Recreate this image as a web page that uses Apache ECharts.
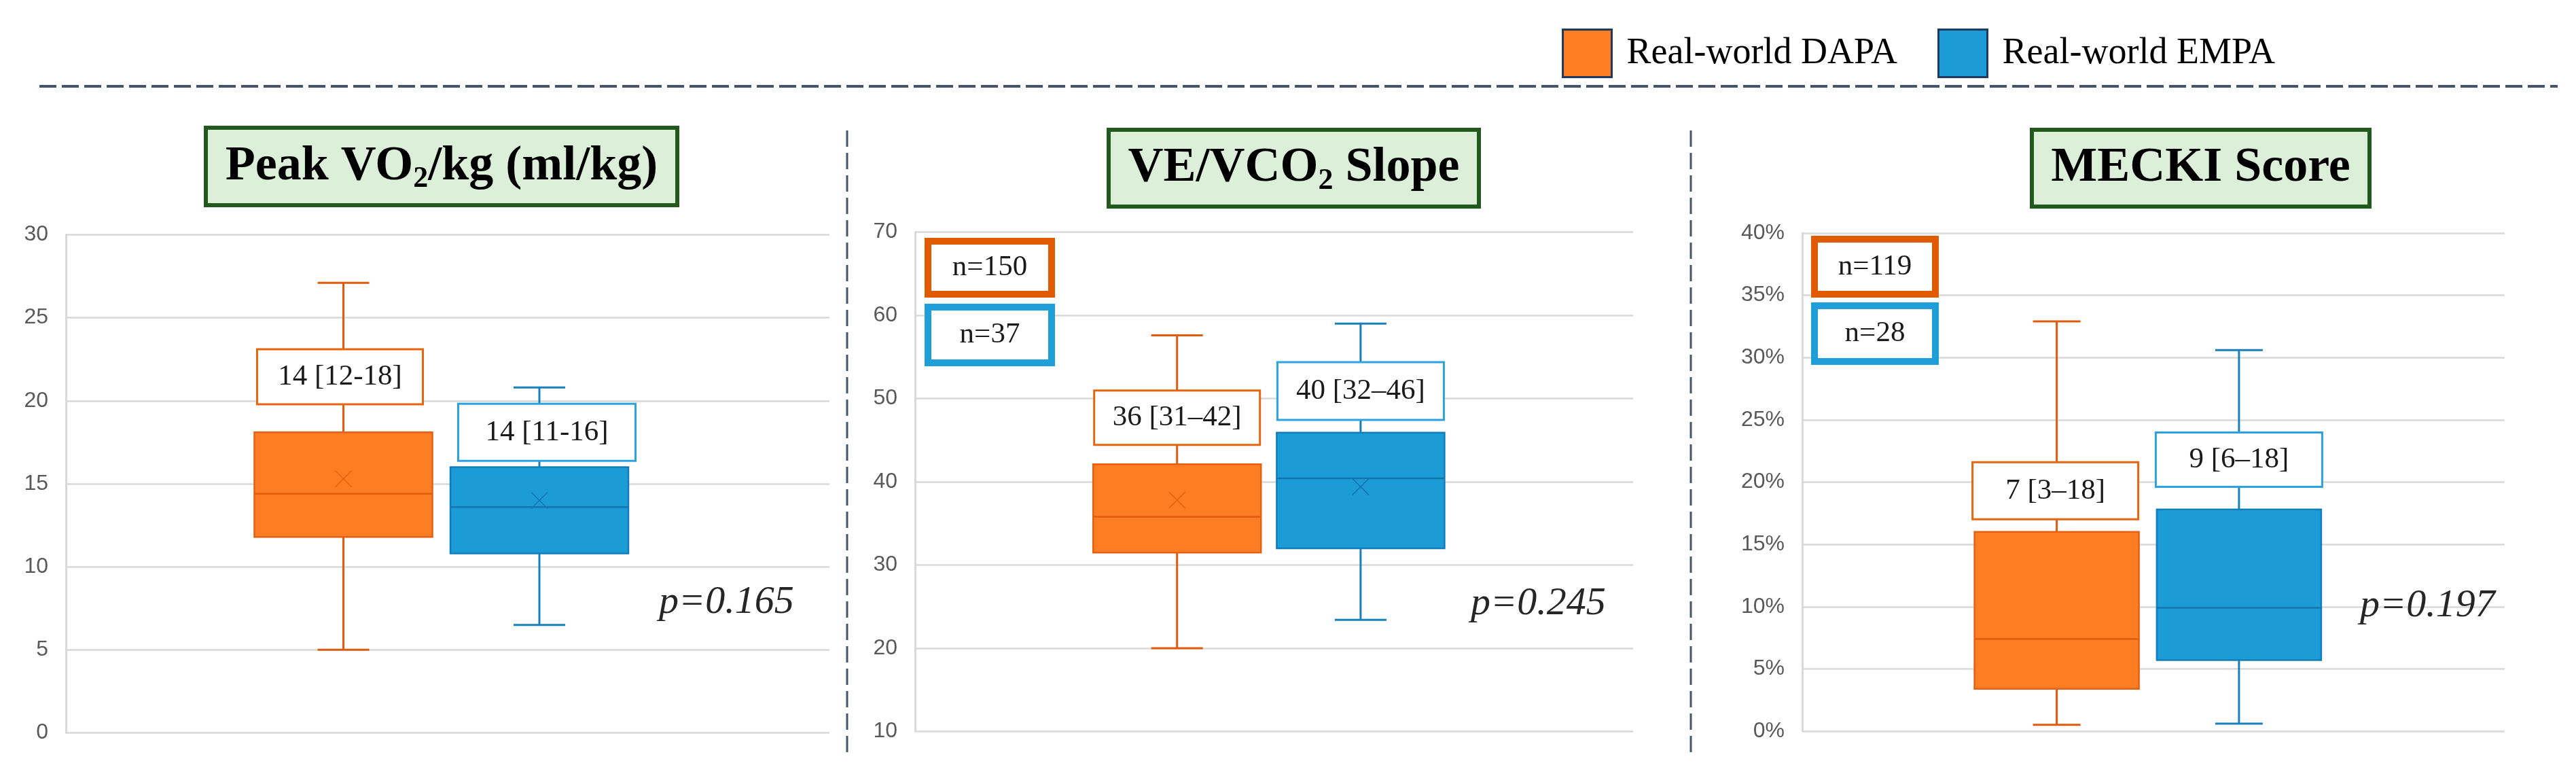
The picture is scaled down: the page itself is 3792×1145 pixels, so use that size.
<!DOCTYPE html>
<html><head><meta charset="utf-8">
<script src="https://cdn.jsdelivr.net/npm/echarts@6/dist/echarts.min.js"></script>
<style>html,body{margin:0;padding:0;background:#fff}#c{width:3792px;height:1145px}</style>
</head><body><div id="c"></div>
<script>
// ---------- data ----------
const seriesNames = ['Real-world DAPA', 'Real-world EMPA'];
// [min, Q1, median, Q3, max, mean]
const peakDapa  = [5.0, 11.8, 14.4, 18.1, 27.1, 15.3];
const peakEmpa  = [6.5, 10.8, 13.6, 16.0, 20.8, 14.0];
const slopeDapa = [20.0, 31.5, 35.8, 42.1, 57.6, 37.8];
const slopeEmpa = [23.4, 32.0, 40.4, 45.9, 59.0, 39.4];
const meckiDapa = [0.5, 3.4, 7.4, 16.0, 32.9, null];
const meckiEmpa = [0.6, 5.7, 9.9, 17.8, 30.6, null];
const peakLabels  = ['14 [12-18]', '14 [11-16]'];
const slopeLabels = ['36 [31–42]', '40 [32–46]'];
const meckiLabels = ['7 [3–18]', '9 [6–18]'];
const slopeCounts = [150, 37];
const meckiCounts = [119, 28];
const pValues = ['0.165', '0.245', '0.197'];

// ---------- styles / layout ----------
const SERIF = '"Liberation Serif", "Times New Roman", serif';
const SANS = '"Liberation Sans", Arial, sans-serif';
const groupStyle = [
  {fill:'#FD7D25', stroke:'#E66010', whisker:'#E25B0C', median:'#E25B0C', mean:'#E5600F', label:'#E8650F', nBox:'#E05A00'},
  {fill:'#1C9CD7', stroke:'#137DB9', whisker:'#1A80BA', median:'#1674AD', mean:'#1674AD', label:'#2AA3E0', nBox:'#1E9FDA'}
];
const panels = [
  {data:[peakDapa, peakEmpa], labels:peakLabels,
   grid:{left:97, top:345.5, width:1124, height:733}, y:{min:0, max:30, interval:5, fmt:'{value}'},
   dx:[-153.5, 135], boxW:262, capW:76, labelY:[21.45, 18.1], labelDx:[-5, 11], labelW:[244, 261], labelH:[81, 84]},
  {data:[slopeDapa, slopeEmpa], labels:slopeLabels,
   grid:{left:1347, top:341.5, width:1057, height:735}, y:{min:10, max:70, interval:10, fmt:'{value}'},
   dx:[-142.8, 127.4], boxW:247, capW:76, labelY:[47.7, 50.9], labelDx:[0, 0], labelW:[244, 245], labelH:[80, 85]},
  {data:[meckiDapa, meckiEmpa], labels:meckiLabels,
   grid:{left:2653, top:343, width:1034, height:733}, y:{min:0, max:40, interval:5, fmt:'{value}%'},
   dx:[-142.4, 125.9], boxW:242, capW:70, labelY:[19.3, 21.8], labelDx:[-2, 0], labelW:[244, 245], labelH:[84, 80]}
];

function makeRender(P, gi) {
  const S = groupStyle[gi];
  return function (params, api) {
    const yv = val => api.coord([0, val])[1];
    const cx = api.coord([0, api.value(3)])[0] + P.dx[gi];
    const yMin = yv(api.value(1)), yQ1 = yv(api.value(2)), yMed = yv(api.value(3)),
          yQ3 = yv(api.value(4)), yMax = yv(api.value(5));
    const mean = api.value(6);
    const hb = P.boxW / 2, hc = P.capW / 2;
    const ln = (x1, y1, x2, y2, c, w) => ({type:'line', shape:{x1, y1, x2, y2}, style:{stroke:c, lineWidth:w}});
    const ch = [
      ln(cx, yQ3, cx, yMax, S.whisker, 3),
      ln(cx, yQ1, cx, yMin, S.whisker, 3),
      ln(cx - hc, yMax, cx + hc, yMax, S.whisker, 3),
      ln(cx - hc, yMin, cx + hc, yMin, S.whisker, 3),
      {type:'rect', shape:{x:cx - hb, y:yQ3, width:P.boxW, height:yQ1 - yQ3},
       style:{fill:S.fill, stroke:S.stroke, lineWidth:2.5}},
      ln(cx - hb, yMed, cx + hb, yMed, S.median, 2.5)
    ];
    if (mean != null && !isNaN(mean)) {
      const ym = yv(mean), m = 12;
      ch.push(ln(cx - m, ym - m, cx + m, ym + m, S.mean, 1.5));
      ch.push(ln(cx - m, ym + m, cx + m, ym - m, S.mean, 1.5));
    }
    const lx = cx + P.labelDx[gi], ly = yv(P.labelY[gi]);
    const lw = P.labelW[gi], lh = P.labelH[gi];
    ch.push({type:'rect', shape:{x:lx - lw / 2, y:ly - lh / 2, width:lw, height:lh},
             style:{fill:'#fff', stroke:S.label, lineWidth:3}});
    ch.push({type:'text', style:{text:P.labels[gi], x:lx, y:ly, align:'center', verticalAlign:'middle',
             font:'43px ' + SERIF, fill:'#1a1a1a'}});
    return {type:'group', children:ch};
  };
}

const grids = [], xAxes = [], yAxes = [], series = [];
panels.forEach((P, i) => {
  grids.push(P.grid);
  xAxes.push({type:'category', gridIndex:i, data:[''], axisLine:{show:false}, axisTick:{show:false},
              axisLabel:{show:false}, splitLine:{show:false}});
  yAxes.push({type:'value', gridIndex:i, min:P.y.min, max:P.y.max, interval:P.y.interval,
              axisLine:{show:true, lineStyle:{color:'#D9D9D9', width:3}}, axisTick:{show:false},
              axisLabel:{formatter:P.y.fmt, fontFamily:SANS, fontSize:32, color:'#595959', margin:26},
              splitLine:{show:true, lineStyle:{color:'#D9D9D9', width:2.5}}});
  P.data.forEach((vals, gi) => {
    series.push({type:'custom', name:seriesNames[gi], xAxisIndex:i, yAxisIndex:i,
      itemStyle:{color:groupStyle[gi].fill},
      encode:{x:0, y:[1, 2, 3, 4, 5]},
      data:[[0].concat(vals.map(v => v == null ? NaN : v))],
      renderItem:makeRender(P, gi), silent:true});
  });
});

// ---------- graphic decorations ----------
const G = [];
const DASH = '#44546A';
G.push({type:'line', shape:{x1:58, y1:127, x2:3765, y2:127}, style:{stroke:DASH, lineWidth:4, lineDash:[25, 8]}});
[1247, 2489].forEach(x => G.push({type:'line', shape:{x1:x, y1:192, x2:x, y2:1114},
  style:{stroke:DASH, lineWidth:3, lineDash:[24, 9]}}));

function titleBox(x, y, w, h, rich) {
  G.push({type:'rect', shape:{x:x + 3, y:y + 3, width:w - 6, height:h - 6},
          style:{fill:'#DCEFD9', stroke:'#215A1C', lineWidth:6}, z:100});
  G.push({type:'text', z:101, style:{text:rich, x:x + w / 2, y:y + h / 2, align:'center', verticalAlign:'middle',
    rich:{b:{fontFamily:SERIF, fontWeight:'bold', fontSize:72, lineHeight:82, fill:'#000'},
          s:{fontFamily:SERIF, fontWeight:'bold', fontSize:44, lineHeight:36, verticalAlign:'bottom', fill:'#000'}}}});
}
titleBox(300, 185, 700, 120, '{b|Peak VO}{s|2}{b|/kg (ml/kg)}');
titleBox(1629, 188, 551, 119, '{b|VE/VCO}{s|2}{b| Slope}');
titleBox(2988, 188, 503, 119, '{b|MECKI Score}');

function nBox(x, y, w, h, color, txt) {
  G.push({type:'rect', z:100, shape:{x:x + 5, y:y + 5, width:w - 10, height:h - 10},
          style:{fill:'#fff', stroke:color, lineWidth:10}});
  G.push({type:'text', z:101, style:{text:txt, x:x + w / 2, y:y + h / 2, align:'center', verticalAlign:'middle',
          font:'43px ' + SERIF, fill:'#1a1a1a'}});
}
nBox(1361, 350, 192, 88, groupStyle[0].nBox, 'n=' + slopeCounts[0]);
nBox(1361, 447, 192, 92, groupStyle[1].nBox, 'n=' + slopeCounts[1]);
nBox(2666, 347, 188, 91, groupStyle[0].nBox, 'n=' + meckiCounts[0]);
nBox(2666, 445, 188, 92, groupStyle[1].nBox, 'n=' + meckiCounts[1]);

[[970, 887], [2165, 889], [3474, 892]].forEach((pos, i) => {
  G.push({type:'text', z:101, style:{text:'p=' + pValues[i], x:pos[0], y:pos[1], align:'left', verticalAlign:'middle',
    font:'italic 58px ' + SERIF, fill:'#262626'}});
});

const chart = echarts.init(document.getElementById('c'));
chart.setOption({
  backgroundColor:'#fff',
  animation:false,
  legend:{data:seriesNames, left:2294, top:37, itemWidth:72, itemHeight:70, itemGap:59, icon:'rect',
    selectedMode:false, itemStyle:{borderColor:'#1F3A5F', borderWidth:3},
    textStyle:{fontFamily:SERIF, fontSize:54, color:'#000', padding:[0, 0, 0, 17]}},
  grid:grids, xAxis:xAxes, yAxis:yAxes, series:series, graphic:G
});
</script></body></html>
